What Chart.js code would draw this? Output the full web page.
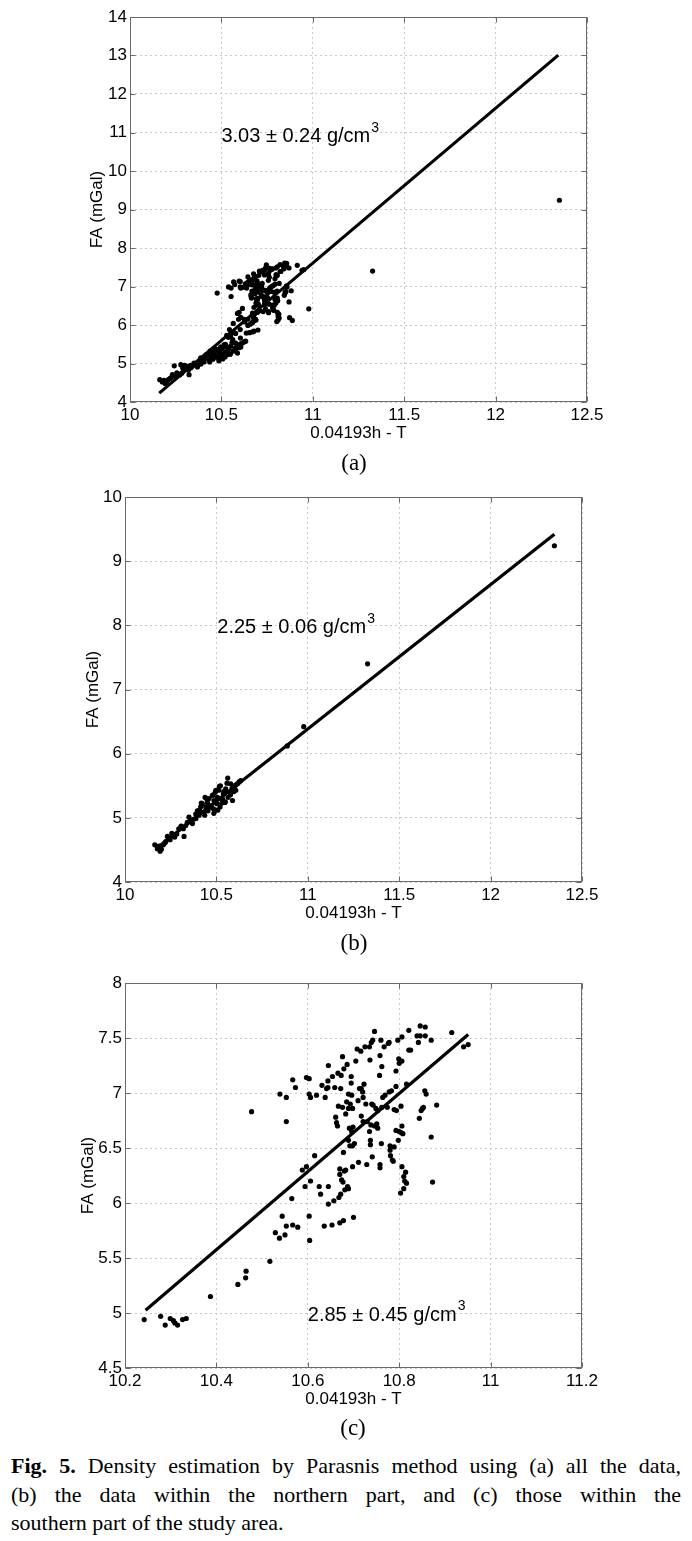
<!DOCTYPE html>
<html>
<head>
<meta charset="utf-8">
<title>Fig. 5 Parasnis density estimation</title>
<script src="https://cdn.jsdelivr.net/npm/chart.js@4.4.1/dist/chart.umd.min.js"></script>
<style>
  body { margin: 0; background: #fff; width: 692px; height: 1541px; position: relative; overflow: hidden; }
  canvas { position: absolute; left: 0; }
  .sub { position: absolute; width: 100px; text-align: center; font-family: "Liberation Serif", "Times New Roman", serif; font-size: 23px; line-height: 28px; color: #000; }
  .cap { position: absolute; left: 11px; width: 670px; font-family: "Liberation Serif", "Times New Roman", serif; font-size: 22px; line-height: 28.5px; color: #000; }
  .cap div { white-space: nowrap; }
  .cap .j { text-align: justify; text-align-last: justify; white-space: normal; }
</style>
</head>
<body>
<canvas id="chartA" width="692" height="450"></canvas>
<canvas id="chartB" width="692" height="450"></canvas>
<canvas id="chartC" width="692" height="450"></canvas>

<div class="sub" style="left:304px; top:449px;">(a)</div>
<div class="sub" style="left:304px; top:929px;">(b)</div>
<div class="sub" style="left:303px; top:1414px;">(c)</div>

<div class="cap" style="top:1452px;">
  <div class="j"><b>Fig. 5.</b> Density estimation by Parasnis method using (a) all the data,</div>
  <div class="j">(b) the data within the northern part, and (c) those within the</div>
  <div>southern part of the study area.</div>
</div>

<script>
// tick labels
const ticksXab = [10, 10.5, 11, 11.5, 12, 12.5];
const ticksYa = [4, 5, 6, 7, 8, 9, 10, 11, 12, 13, 14];
const ticksYb = [4, 5, 6, 7, 8, 9, 10];
const ticksXc = [10.2, 10.4, 10.6, 10.8, 11, 11.2];
const ticksYc = [4.5, 5, 5.5, 6, 6.5, 7, 7.5, 8];

// northern part (x = 0.04193h - T, y = FA)
const northX = [10.163, 10.177, 10.186, 10.192, 10.199, 10.210, 10.219, 10.223, 10.232, 10.247,
  10.256, 10.259, 10.272, 10.283, 10.294, 10.305, 10.307, 10.319, 10.323, 10.332,
  10.341, 10.350, 10.360, 10.369, 10.378, 10.387, 10.388, 10.396, 10.405, 10.407,
  10.414, 10.417, 10.423, 10.433, 10.436, 10.438, 10.442, 10.445, 10.451, 10.454,
  10.455, 10.460, 10.469, 10.473, 10.478, 10.483, 10.484, 10.486, 10.487, 10.494,
  10.497, 10.501, 10.503, 10.505, 10.507, 10.513, 10.516, 10.520, 10.522, 10.525,
  10.530, 10.533, 10.538, 10.540, 10.546, 10.549, 10.551, 10.558, 10.562, 10.564,
  10.575, 10.577, 10.578, 10.586, 10.588, 10.596, 10.597, 10.605, 10.606, 10.615,
  10.624, 10.633, 10.888, 10.978, 11.327, 12.349];
const northY = [4.58, 4.52, 4.56, 4.48, 4.51, 4.58, 4.61, 4.63, 4.71, 4.66,
  4.76, 4.72, 4.70, 4.75, 4.83, 4.85, 4.87, 4.83, 4.71, 4.88,
  4.93, 5.01, 4.96, 4.91, 4.98, 5.06, 4.99, 5.11, 5.04, 5.12,
  5.17, 5.23, 5.22, 5.09, 5.04, 5.32, 5.17, 5.30, 5.24, 5.11,
  5.15, 5.30, 5.19, 5.17, 5.35, 5.36, 5.14, 5.07, 5.27, 5.40,
  5.43, 5.23, 5.22, 5.32, 5.12, 5.43, 5.49, 5.17, 5.50, 5.30,
  5.23, 5.30, 5.37, 5.41, 5.24, 5.25, 5.45, 5.54, 5.62, 5.32,
  5.40, 5.36, 5.53, 5.46, 5.27, 5.41, 5.48, 5.51, 5.43, 5.53,
  5.56, 5.58, 6.12, 6.42, 7.40, 9.24];

// southern part
const southX = [10.242, 10.278, 10.288, 10.299, 10.306, 10.309, 10.315, 10.326, 10.334, 10.387,
  10.447, 10.464, 10.465, 10.477, 10.517, 10.529, 10.538, 10.544, 10.550, 10.553,
  10.539, 10.553, 10.553, 10.565, 10.567, 10.567, 10.573, 10.578, 10.588, 10.594,
  10.597, 10.597, 10.603, 10.603, 10.606, 10.603, 10.604, 10.606, 10.615, 10.619,
  10.625, 10.628, 10.631, 10.636, 10.638, 10.641, 10.644, 10.644, 10.645, 10.645,
  10.645, 10.653, 10.654, 10.657, 10.659, 10.661, 10.663, 10.665, 10.666, 10.667,
  10.668, 10.670, 10.670, 10.672, 10.673, 10.676, 10.670, 10.672, 10.674, 10.676,
  10.677, 10.678, 10.679, 10.678, 10.680, 10.681, 10.683, 10.683, 10.685, 10.686,
  10.687, 10.689, 10.689, 10.691, 10.689, 10.689, 10.692, 10.693, 10.695, 10.695,
  10.696, 10.696, 10.698, 10.698, 10.698, 10.699, 10.700, 10.702, 10.705, 10.708,
  10.710, 10.711, 10.713, 10.716, 10.717, 10.717, 10.720, 10.721, 10.721, 10.723,
  10.725, 10.727, 10.729, 10.730, 10.735, 10.735, 10.736, 10.737, 10.737, 10.738,
  10.739, 10.740, 10.741, 10.742, 10.743, 10.746, 10.746, 10.749, 10.751, 10.753,
  10.753, 10.757, 10.758, 10.758, 10.758, 10.760, 10.761, 10.762, 10.762, 10.764,
  10.767, 10.769, 10.774, 10.776, 10.778, 10.778, 10.780, 10.780, 10.781, 10.783,
  10.785, 10.787, 10.789, 10.789, 10.793, 10.793, 10.794, 10.793, 10.797, 10.798,
  10.799, 10.800, 10.800, 10.803, 10.804, 10.804, 10.806, 10.806, 10.806, 10.808,
  10.810, 10.806, 10.810, 10.812, 10.814, 10.816, 10.816, 10.821, 10.821, 10.825,
  10.839, 10.842, 10.844, 10.846, 10.846, 10.848, 10.851, 10.853, 10.856, 10.857,
  10.857, 10.859, 10.870, 10.870, 10.873, 10.882, 10.915, 10.941, 10.951];
const southY = [4.94, 4.97, 4.89, 4.95, 4.93, 4.91, 4.89, 4.94, 4.95, 5.15,
  5.26, 5.32, 5.38, 6.83, 5.47, 5.73, 5.68, 5.88, 5.71, 5.79,
  6.99, 6.96, 6.74, 6.04, 5.80, 7.12, 7.05, 5.78, 6.30, 6.15,
  6.33, 7.14, 7.13, 6.99, 6.96, 5.88, 5.66, 6.20, 6.43, 6.98,
  6.15, 6.08, 7.07, 5.79, 6.96, 7.04, 7.11, 7.05, 7.25, 5.99,
  6.15, 5.80, 7.15, 6.02, 7.05, 6.78, 6.73, 6.70, 7.18, 6.88,
  6.05, 6.31, 6.26, 7.04, 7.16, 7.33, 5.82, 6.08, 6.21, 6.87,
  6.19, 6.46, 7.22, 5.84, 6.29, 6.12, 6.30, 6.81, 6.92, 7.26,
  6.15, 6.13, 6.57, 6.68, 6.99, 6.86, 6.52, 6.90, 7.15, 7.09,
  6.98, 6.65, 6.86, 6.33, 6.52, 6.69, 5.87, 6.54, 7.29, 7.40,
  6.93, 6.37, 7.04, 7.38, 6.79, 7.04, 7.01, 6.74, 6.96, 7.08,
  7.42, 6.90, 6.35, 6.74, 7.42, 6.65, 7.30, 6.57, 6.53, 6.71,
  7.46, 6.90, 6.42, 7.48, 6.89, 7.56, 6.70, 6.86, 6.72, 6.68,
  6.84, 7.16, 7.34, 6.35, 6.32, 7.48, 6.54, 7.24, 6.87, 6.96,
  7.42, 6.98, 6.87, 7.45, 7.46, 7.01, 6.52, 6.48, 6.43, 7.02,
  6.39, 6.38, 6.85, 6.51, 7.20, 7.06, 6.84, 6.66, 7.48, 6.57,
  7.31, 7.27, 6.65, 6.09, 6.88, 6.64, 7.29, 6.70, 6.33, 6.63,
  6.24, 7.51, 6.13, 6.20, 6.28, 6.18, 7.08, 7.57, 7.39, 7.39,
  7.52, 7.46, 6.77, 7.52, 7.61, 6.84, 6.86, 6.87, 7.02, 7.60,
  7.52, 6.99, 6.60, 7.48, 6.19, 6.89, 7.55, 7.42, 7.44];

// fitted lines, end points
const fitAllX = [10.16, 12.343];
const fitAllY = [4.23, 13.01];
const fitNorthX = [10.17, 12.349];
const fitNorthY = [4.52, 9.42];
const fitSouthX = [10.245, 10.951];
const fitSouthY = [5.025, 7.531];

// density results
const densityText = ['3.03 \u00b1 0.24 g/cm', '2.25 \u00b1 0.06 g/cm', '2.85 \u00b1 0.45 g/cm'];

const toPoints = (xs, ys) => xs.map((x, i) => ({ x: x, y: ys[i] }));

const SANS = '"Liberation Sans", Arial, Helvetica, sans-serif';
const FRAME = '#6a6a6a';

// MATLAB style box, inward ticks and the density label
const parasnisPlugin = {
  id: 'parasnis',
  afterDatasetsDraw(chart, args, opts) {
    const { ctx, chartArea: a, scales } = chart;
    const xs = scales.x, ys = scales.y;
    ctx.save();
    ctx.strokeStyle = FRAME;
    ctx.lineWidth = 1;
    const l = Math.round(a.left) + 0.5, r = Math.round(a.right) - 0.5;
    const t = Math.round(a.top) + 0.5, b = Math.round(a.bottom) - 0.5;
    ctx.strokeRect(l, t, r - l, b - t);
    ctx.beginPath();
    xs.ticks.forEach(tk => {
      const px = Math.round(xs.getPixelForValue(tk.value)) + 0.5;
      ctx.moveTo(px, b); ctx.lineTo(px, b - 5);
      ctx.moveTo(px, t); ctx.lineTo(px, t + 5);
    });
    ys.ticks.forEach(tk => {
      const py = Math.round(ys.getPixelForValue(tk.value)) + 0.5;
      ctx.moveTo(l, py); ctx.lineTo(l + 5, py);
      ctx.moveTo(r, py); ctx.lineTo(r - 5, py);
    });
    ctx.stroke();

    // density label with superscript
    const tx = xs.getPixelForValue(opts.at[0]);
    const ty = ys.getPixelForValue(opts.at[1]);
    ctx.fillStyle = '#000';
    ctx.textAlign = 'left';
    ctx.textBaseline = 'middle';
    ctx.font = '20px ' + SANS;
    ctx.fillText(opts.text, tx, ty);
    const w = ctx.measureText(opts.text).width;
    ctx.font = '14px ' + SANS;
    ctx.fillText('3', tx + w + 1, ty - 9);
    ctx.restore();
  }
};

function makeChart(id, frame, pts, fitX, fitY, xTicks, yTicks, label, labelAt) {
  const canvas = document.getElementById(id);
  const top = frame.top - 17;
  canvas.style.top = top + 'px';
  const padLeft = frame.titleX - 10.2;
  const yAxisW = frame.left - padLeft;

  new Chart(canvas, {
    type: 'scatter',
    data: {
      datasets: [{
        data: toPoints(fitX, fitY),
        showLine: true,
        borderColor: '#000',
        borderWidth: 3.2,
        pointRadius: 0,
        pointHoverRadius: 0
      }, {
        data: pts,
        backgroundColor: '#000',
        borderWidth: 0,
        pointRadius: 2.6,
        pointHoverRadius: 2.6
      }]
    },
    options: {
      responsive: false,
      animation: false,
      events: [],
      layout: { padding: { left: padLeft, right: 692 - frame.right, top: 17, bottom: 6 } },
      plugins: {
        legend: { display: false },
        tooltip: { enabled: false },
        parasnis: { text: label, at: labelAt }
      },
      scales: {
        x: {
          type: 'linear',
          min: xTicks[0],
          max: xTicks[xTicks.length - 1],
          afterBuildTicks: s => { s.ticks = xTicks.map(v => ({ value: v })); },
          afterFit: s => { s.height = 42; },
          ticks: { color: '#000', font: { family: SANS, size: 17 }, padding: 3, maxRotation: 0, autoSkip: false, callback: v => String(v) },
          grid: { color: '#c8c8c8', lineWidth: 1, drawTicks: false },
          border: { display: false, dash: [2, 3] },
          title: { display: true, text: '0.04193h - T', color: '#000', font: { family: SANS, size: 17 }, padding: 0 }
        },
        y: {
          type: 'linear',
          min: yTicks[0],
          max: yTicks[yTicks.length - 1],
          afterBuildTicks: s => { s.ticks = yTicks.map(v => ({ value: v })); },
          afterFit: s => { s.width = yAxisW; },
          ticks: { color: '#000', font: { family: SANS, size: 17 }, padding: 3, autoSkip: false, callback: v => String(v) },
          grid: { color: '#c8c8c8', lineWidth: 1, drawTicks: false },
          border: { display: false, dash: [2, 3] },
          title: { display: true, text: 'FA (mGal)', color: '#000', font: { family: SANS, size: 17 }, padding: 0 }
        }
      }
    },
    plugins: [parasnisPlugin]
  });
}

const allPoints = toPoints(northX, northY).concat(toPoints(southX, southY));

makeChart('chartA', { left: 130, right: 587, top: 17, bottom: 402, titleX: 97 },
  allPoints, fitAllX, fitAllY, ticksXab, ticksYa, densityText[0], [10.5, 10.89]);
makeChart('chartB', { left: 125, right: 582, top: 497, bottom: 882, titleX: 93 },
  toPoints(northX, northY), fitNorthX, fitNorthY, ticksXab, ticksYb, densityText[1], [10.505, 7.96]);
makeChart('chartC', { left: 125, right: 582, top: 983, bottom: 1368, titleX: 88 },
  toPoints(southX, southY), fitSouthX, fitSouthY, ticksXc, ticksYc, densityText[2], [10.6, 4.98]);
</script>
</body>
</html>
